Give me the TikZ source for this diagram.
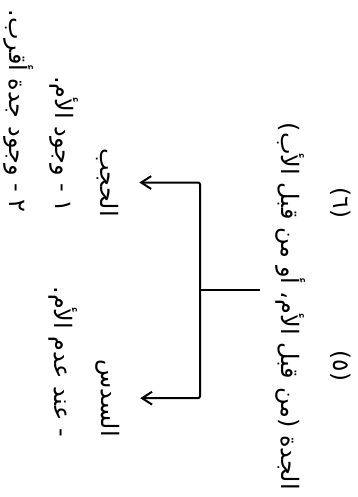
\documentclass[tikz,border=0pt]{standalone}
\usepackage{fontspec}
\newfontfamily\arabicfont[Script=Arabic]{DejaVu Sans}
\TeXXeTstate=1
\usetikzlibrary{arrows.meta}
\tikzset{
  txt/.style={rotate=-90, anchor=east, inner sep=0pt, font=\arabicfont\fontsize{24}{28}\selectfont},
  note/.style={rotate=-90, inner sep=0pt, font=\arabicfont\fontsize{23}{27}\selectfont},
  stem/.style={line width=1.2pt},
  arr/.style={-{Straight Barb[length=3.5mm,width=4.5mm]}, line width=2pt, rounded corners=2pt},
}

\begin{document}
\begin{tikzpicture}[x=1pt, y=-1pt]
\useasboundingbox (0,0) rectangle (357,497);

% root line and its footnote marks
\node[txt] (root) at (291,490) {\beginR الجدة (من قبل الأم، أو من قبل الأب)\endR};
\node[note] (fnfive) at (341,366) {\beginR(٥)\endR};
\node[note] (fnsix) at (341,203) {\beginR(٦)\endR};

% the two cases
\node[txt] (hajb) at (108,217) {\beginR الحجب\endR};
\node[txt] (hajbone) at (64,213) {\beginR ١ - وجود الأم.\endR};
\node[txt] (hajbtwo) at (19,213) {\beginR ٢ - وجود جدة أقرب.\endR};

\node[txt] (sudus) at (108,437) {\beginR السدس\endR};
\node[txt] (sudusone) at (63,437) {\beginR - عند عدم الأم.\endR};

\coordinate (fork) at (200,290);
\draw[stem, shorten <=16pt] (root.south |- fork) -- (fork);
\draw[arr, shorten >=20pt] (fork) |- (hajb.north);
\draw[arr, shorten >=20pt] (fork) |- (sudus.north);

\end{tikzpicture}
\end{document}
